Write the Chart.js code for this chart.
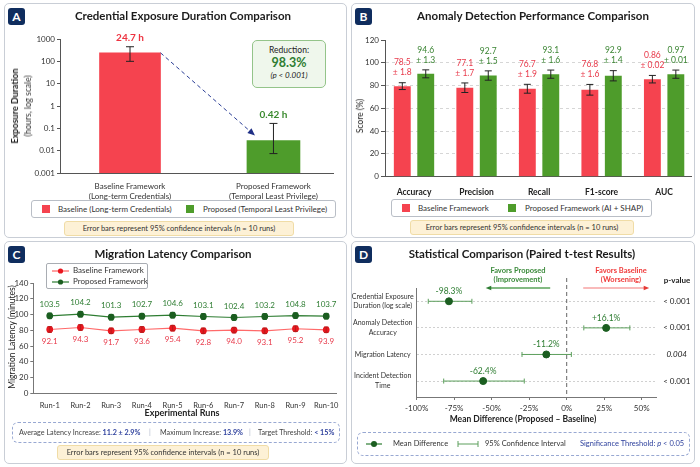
<!DOCTYPE html>
<html>
<head>
<meta charset="utf-8">
<script src="https://cdn.jsdelivr.net/npm/chart.js@4.4.1/dist/chart.umd.min.js"></script>
<style>
body { margin: 0; width: 700px; height: 467px; background: #fff; font-family: Lato, 'Noto Sans', sans-serif; color: #222; position: relative; overflow: hidden; }
.panel { position: absolute; border: 1px solid #c9ced6; border-radius: 5px; background: #fff; }
.wrap { position: absolute; left: 0; top: 0; }
.badge { position: absolute; left: 3px; top: 4px; width: 17px; height: 17px; background: #0f2d5e; color: #fff; font-weight: 700; font-size: 12px; line-height: 17px; text-align: center; border-radius: 3px; }
.title { position: absolute; top: 4px; font-size: 11.5px; font-weight: 700; color: #1c1c1c; white-space: nowrap; transform: translateX(-50%); line-height: 16px; }
.t { position: absolute; white-space: nowrap; }
.rot { position: absolute; white-space: nowrap; text-align: center; transform: translate(-50%, -50%) rotate(-90deg); }
.legend { position: absolute; border: 1px solid #b9bec6; border-radius: 3px; font-size: 8px; color: #333; background: #fff; }
.legend .t { top: 50%; transform: translateY(-50%); }
.sw { position: absolute; width: 8px; height: 8px; top: 50%; margin-top: -4px; }
.note { position: absolute; background: #fdf1d6; border: 1px solid #f0dca6; border-radius: 3px; font-size: 7.5px; color: #333; text-align: center; }
</style>
</head>
<body>

<!-- Panel A -->
<div class="panel" style="left:4px;top:3px;width:341px;height:233px;">
  <div class="wrap" style="width:341px;height:233px;"><canvas id="chartA"></canvas></div>
  <div class="badge">A</div>
  <div class="title" style="left:178px;">Credential Exposure Duration Comparison</div>
  <div class="rot" style="left:15px;top:102px;line-height:10px;"><b style="font-size:9px;">Exposure Duration</b><br><span style="font-size:8.5px;color:#333;">(hours, log scale)</span></div>
  <div class="t" style="left:247px;top:36px;width:72px;height:46px;border:1px solid #94c48a;border-radius:5px;background:#eff7ec;text-align:center;">
    <div style="font-size:8.5px;margin-top:4px;line-height:10px;">Reduction:</div>
    <div style="font-size:12.5px;font-weight:700;color:#2e7d32;line-height:15px;">98.3%</div>
    <div style="font-size:8px;font-style:italic;line-height:11px;">(p &lt; 0.001)</div>
  </div>
  <div class="legend" style="left:26px;top:196px;width:303px;height:16px;">
    <span class="sw" style="left:10px;background:#f5434f;"></span><span class="t" style="left:26px;">Baseline (Long-term Credentials)</span>
    <span class="sw" style="left:154px;background:#4e9c2b;"></span><span class="t" style="left:171px;">Proposed (Temporal Least Privilege)</span>
  </div>
  <div class="note" style="left:59px;top:217px;width:228px;height:13px;line-height:13px;">Error bars represent 95% confidence intervals (n = 10 runs)</div>
</div>

<!-- Panel B -->
<div class="panel" style="left:351px;top:3px;width:342px;height:233px;">
  <div class="wrap" style="width:342px;height:233px;"><canvas id="chartB"></canvas></div>
  <div class="badge">B</div>
  <div class="title" style="left:181px;">Anomaly Detection Performance Comparison</div>
  <div class="rot" style="left:8px;top:112px;font-size:8.5px;">Score (%)</div>
  <div class="legend" style="left:39px;top:195px;width:259px;height:16px;">
    <span class="sw" style="left:10px;background:#f5434f;"></span><span class="t" style="left:26px;">Baseline Framework</span>
    <span class="sw" style="left:116px;background:#4e9c2b;"></span><span class="t" style="left:133px;">Proposed Framework (AI + SHAP)</span>
  </div>
  <div class="note" style="left:58px;top:216px;width:222px;height:13px;line-height:13px;">Error bars represent 95% confidence intervals (n = 10 runs)</div>
</div>

<!-- Panel C -->
<div class="panel" style="left:4px;top:241px;width:341px;height:221px;">
  <div class="wrap" style="width:341px;height:221px;"><canvas id="chartC"></canvas></div>
  <div class="badge">C</div>
  <div class="title" style="left:168px;">Migration Latency Comparison</div>
  <div class="rot" style="left:7px;top:95px;font-size:8.5px;">Migration Latency (minutes)</div>
  <div class="t" style="left:177px;top:165px;transform:translateX(-50%);font-size:9px;font-weight:700;">Experimental Runs</div>
  <div class="t" style="left:41px;top:21px;width:100px;height:24px;border:1px solid #a9adb3;border-radius:2px;background:#fff;font-size:8px;color:#333;">
    <svg class="t" style="left:5px;top:3px;" width="17" height="8"><line x1="0" y1="4" x2="17" y2="4" stroke="#ff6060" stroke-width="1.2"/><circle cx="8.5" cy="4" r="2.6" fill="#e8161e"/></svg>
    <span class="t" style="left:26px;top:1px;">Baseline Framework</span>
    <svg class="t" style="left:5px;top:14px;" width="17" height="8"><line x1="0" y1="4" x2="17" y2="4" stroke="#2e7d32" stroke-width="1.2"/><circle cx="8.5" cy="4" r="2.6" fill="#1b5e20"/></svg>
    <span class="t" style="left:26px;top:12px;">Proposed Framework</span>
  </div>
  <div class="t" style="left:7px;top:180px;width:326px;height:19px;border:1px dashed #98a8d2;border-radius:6px;font-size:7.2px;color:#444;line-height:19px;">
    <span class="t" style="left:6px;">Average Latency Increase: <span style="color:#2c3f9c;font-weight:700;">11.2 ± 2.9%</span></span>
    <span class="t" style="left:136px;color:#aab3c8;">|</span>
    <span class="t" style="left:147px;">Maximum Increase: <span style="color:#2c3f9c;font-weight:700;">13.9%</span></span>
    <span class="t" style="left:236px;color:#aab3c8;">|</span>
    <span class="t" style="left:245px;">Target Threshold: <span style="color:#2c3f9c;font-weight:700;">&lt; 15%</span></span>
  </div>
  <div class="note" style="left:52px;top:203px;width:210px;height:13px;line-height:13px;">Error bars represent 95% confidence intervals (n = 10 runs)</div>
</div>

<!-- Panel D -->
<div class="panel" style="left:351px;top:241px;width:342px;height:221px;">
  <div class="wrap" style="width:342px;height:221px;"><canvas id="chartD"></canvas></div>
  <div class="badge">D</div>
  <div class="title" style="left:170px;">Statistical Comparison (Paired t-test Results)</div>
  <div class="t" style="left:166px;top:24px;transform:translateX(-50%);font-size:7.5px;font-weight:700;color:#3a8a3a;text-align:center;line-height:9px;">Favors Proposed<br>(Improvement)</div>
  <div class="t" style="left:269px;top:24px;transform:translateX(-50%);font-size:7.5px;font-weight:700;color:#f03a3a;text-align:center;line-height:9px;">Favors Baseline<br>(Worsening)</div>
  <div class="t" style="left:325px;top:33px;transform:translateX(-50%);font-size:8px;font-weight:700;">p-value</div>
  <div class="t" style="left:171px;top:172px;transform:translateX(-50%);font-size:8.5px;font-weight:700;">Mean Difference (Proposed – Baseline)</div>
  <div class="t" style="left:5px;top:190px;width:331px;height:22px;border:1px dashed #98a8d2;border-radius:6px;font-size:7.5px;color:#333;line-height:22px;">
    <svg class="t" style="left:8px;top:7px;" width="16" height="8"><line x1="0" y1="4" x2="16" y2="4" stroke="#2e7d32" stroke-width="1.2"/><circle cx="8" cy="4" r="3" fill="#1b5e20"/></svg>
    <span class="t" style="left:35px;">Mean Difference</span>
    <svg class="t" style="left:99px;top:7px;" width="22" height="8"><line x1="1" y1="4" x2="21" y2="4" stroke="#5c9f5c" stroke-width="1"/><line x1="1" y1="1" x2="1" y2="7" stroke="#5c9f5c"/><line x1="21" y1="1" x2="21" y2="7" stroke="#5c9f5c"/></svg>
    <span class="t" style="left:127px;">95% Confidence Interval</span>
    <span class="t" style="left:222px;color:#2c3f9c;">Significance Threshold: <i>p</i> &lt; 0.05</span>
  </div>
</div>

<script>
// ---- Panel A: credential exposure (log scale) ----
const exposureLabels = [['Baseline Framework', '(Long-term Credentials)'], ['Proposed Framework', '(Temporal Least Privilege)']];
const exposureValues = [240, 0.0285];
const exposureLow = [100, 0.0074];
const exposureHigh = [450, 0.166];
const exposureText = ['24.7 h', '0.42 h'];
const exposureTicks = [0.001, 0.01, 0.1, 1, 10, 100, 1000];

// ---- Panel B: detection metrics ----
const metricLabels = ['Accuracy', 'Precision', 'Recall', 'F1-score', 'AUC'];
const baselineScores = [79.5, 78.1, 77.2, 76.3, 85.6];
const proposedScores = [90.3, 88.8, 90.0, 88.6, 90.0];
const baselineScoreErr = [3.0, 4.2, 3.9, 4.7, 3.3];
const proposedScoreErr = [3.5, 4.1, 3.6, 4.5, 3.6];
const baselineScoreText = ['78.5', '77.1', '76.7', '76.8', '0.86'];
const baselineScoreSd = ['± 1.8', '± 1.7', '± 1.9', '± 1.6', '± 0.02'];
const proposedScoreText = ['94.6', '92.7', '93.1', '92.9', '0.97'];
const proposedScoreSd = ['± 1.3', '± 1.5', '± 1.6', '± 1.4', '± 0.01'];

// ---- Panel C: migration latency ----
const runLabels = ['Run-1', 'Run-2', 'Run-3', 'Run-4', 'Run-5', 'Run-6', 'Run-7', 'Run-8', 'Run-9', 'Run-10'];
const baselineLatency = [81.0, 83.5, 79.3, 81.0, 82.7, 79.3, 80.2, 79.3, 81.9, 80.6];
const proposedLatency = [98.3, 100.4, 96.6, 97.9, 99.2, 97.5, 96.2, 97.5, 98.7, 97.9];
const baselineLatencyErr = [3.5, 3.5, 3.5, 3.5, 3.5, 3.5, 3.5, 3.5, 3.5, 3.5];
const proposedLatencyErr = [3.5, 3.5, 3.5, 3.5, 3.5, 3.5, 3.5, 3.5, 3.5, 3.5];
const baselineLatencyText = ['92.1', '94.3', '91.7', '93.6', '95.4', '92.8', '94.0', '93.1', '95.2', '93.9'];
const proposedLatencyText = ['103.5', '104.2', '101.3', '102.7', '104.6', '103.1', '102.4', '103.2', '104.8', '103.7'];

// ---- Panel D: paired t-tests ----
const testLabels = [['Credential Exposure', 'Duration (log scale)'], ['Anomaly Detection', 'Accuracy'], ['Migration Latency'], ['Incident Detection', 'Time']];
const meanDiff = [-78.5, 26.3, -13.6, -55.7];
const ciLow = [-92.3, 11.4, -29.8, -82.0];
const ciHigh = [-63.2, 42.1, 3.1, -28.3];
const diffText = ['-98.3%', '+16.1%', '-11.2%', '-62.4%'];
const pValues = ['< 0.001', '< 0.001', '0.004', '< 0.001'];
const diffTicks = [-100, -75, -50, -25, 0, 25, 50];

const RED = '#f5434f', GREEN = '#4e9c2b';
const RED_TEXT = '#e8394a', GREEN_TEXT = '#3b8533';

Chart.defaults.font.family = "Lato, 'Noto Sans', sans-serif";
Chart.defaults.font.size = 8;
Chart.defaults.color = '#333';
Chart.defaults.animation = false;
Chart.defaults.plugins.legend.display = false;
Chart.defaults.plugins.tooltip.enabled = false;

// vertical error bars for bar / line charts
function errorBars(id, sets, cap) {
    return {
        id: id,
        afterDatasetsDraw(chart) {
            const ctx = chart.ctx, y = chart.scales.y;
            ctx.save();
            ctx.lineWidth = 1;
            sets.forEach(s => {
                ctx.strokeStyle = s.color;
                chart.getDatasetMeta(s.dataset).data.forEach((el, i) => {
                    if (s.low[i] == null) return;
                    const top = y.getPixelForValue(s.high[i]);
                    const bot = y.getPixelForValue(s.low[i]);
                    ctx.beginPath();
                    ctx.moveTo(el.x, top); ctx.lineTo(el.x, bot);
                    ctx.moveTo(el.x - cap, top); ctx.lineTo(el.x + cap, top);
                    ctx.moveTo(el.x - cap, bot); ctx.lineTo(el.x + cap, bot);
                    ctx.stroke();
                });
            });
            ctx.restore();
        }
    };
}

function arrowHead(ctx, x, y, angle, size) {
    ctx.beginPath();
    ctx.moveTo(x, y);
    ctx.lineTo(x - size * Math.cos(angle - 0.4), y - size * Math.sin(angle - 0.4));
    ctx.lineTo(x - size * Math.cos(angle + 0.4), y - size * Math.sin(angle + 0.4));
    ctx.closePath();
    ctx.fill();
}

// ---------- Chart A ----------
const labelsA = {
    id: 'labelsA',
    afterDatasetsDraw(chart) {
        const ctx = chart.ctx, y = chart.scales.y;
        ctx.save();
        ctx.font = "bold 10px Lato, 'Noto Sans', sans-serif";
        ctx.textAlign = 'center';
        ctx.textBaseline = 'middle';
        [0, 1].forEach(d => {
            const el = chart.getDatasetMeta(d).data[0];
            ctx.fillStyle = d === 0 ? '#ee3340' : '#3a8a2e';
            ctx.fillText(exposureText[d], el.x, y.getPixelForValue(exposureHigh[d]) - 9);
        });
        // dashed arrow between the two bars
        const b = chart.getDatasetMeta(0).data[0], p = chart.getDatasetMeta(1).data[0];
        const x1 = b.x + b.width / 2, y1 = b.y;
        const x2 = p.x - p.width / 2 + 8, y2 = p.y - 5;
        ctx.strokeStyle = '#2a3d95';
        ctx.fillStyle = '#1f2f86';
        ctx.lineWidth = 1;
        ctx.setLineDash([4, 3]);
        ctx.beginPath(); ctx.moveTo(x1, y1); ctx.lineTo(x2, y2); ctx.stroke();
        ctx.setLineDash([]);
        arrowHead(ctx, x2, y2, Math.atan2(y2 - y1, x2 - x1), 8);
        ctx.restore();
    }
};

new Chart(document.getElementById('chartA'), {
    type: 'bar',
    data: {
        datasets: [
            { data: [{ x: 0, y: exposureValues[0] }], backgroundColor: RED, barThickness: 61, grouped: false },
            { data: [{ x: 1, y: exposureValues[1] }], backgroundColor: GREEN, barThickness: 53, grouped: false }
        ]
    },
    options: {
        responsive: true, maintainAspectRatio: false,
        layout: { padding: { top: 35, right: 13, left: 0, bottom: 0 } },
        scales: {
            x: {
                type: 'linear', min: -0.488, max: 1.415, offset: false,
                afterBuildTicks(s) { s.ticks = [{ value: 0 }, { value: 1 }]; },
                ticks: { callback: v => exposureLabels[v], font: { size: 8 }, color: '#333', padding: 9, maxRotation: 0 },
                grid: { display: false, drawTicks: false },
                border: { color: '#555' },
                afterFit(s) { s.height = 64; }
            },
            y: {
                type: 'logarithmic', min: 0.001, max: 1000,
                afterBuildTicks(s) { s.ticks = exposureTicks.map(v => ({ value: v })); },
                ticks: { callback: v => String(v), font: { size: 8 }, color: '#333', padding: 2 },
                grid: { drawOnChartArea: false, tickLength: 3, color: '#555' },
                border: { color: '#555' },
                afterFit(s) { s.width = 55; }
            }
        }
    },
    plugins: [
        errorBars('errA', [
            { dataset: 0, low: [exposureLow[0]], high: [exposureHigh[0]], color: '#222' },
            { dataset: 1, low: [exposureLow[1]], high: [exposureHigh[1]], color: '#222' }
        ], 4),
        labelsA
    ]
});

// ---------- Chart B ----------
const labelsB = {
    id: 'labelsB',
    afterDatasetsDraw(chart) {
        const ctx = chart.ctx, y = chart.scales.y;
        ctx.save();
        ctx.font = "8.5px Lato, 'Noto Sans', sans-serif";
        ctx.textAlign = 'center';
        ctx.textBaseline = 'middle';
        const sets = [
            { values: baselineScores, err: baselineScoreErr, top: baselineScoreText, bot: baselineScoreSd, color: RED_TEXT },
            { values: proposedScores, err: proposedScoreErr, top: proposedScoreText, bot: proposedScoreSd, color: GREEN_TEXT }
        ];
        sets.forEach((s, d) => {
            ctx.fillStyle = s.color;
            chart.getDatasetMeta(d).data.forEach((el, i) => {
                const yt = y.getPixelForValue(s.values[i] + s.err[i]);
                ctx.fillText(s.top[i], el.x, yt - 20);
                ctx.fillText(s.bot[i], el.x, yt - 10);
            });
        });
        ctx.restore();
    }
};

new Chart(document.getElementById('chartB'), {
    type: 'bar',
    data: {
        datasets: [
            { data: metricLabels.map((m, i) => ({ x: i, y: baselineScores[i] })), backgroundColor: RED, categoryPercentage: 0.75, barPercentage: 0.72 },
            { data: metricLabels.map((m, i) => ({ x: i, y: proposedScores[i] })), backgroundColor: GREEN, categoryPercentage: 0.75, barPercentage: 0.72 }
        ]
    },
    options: {
        responsive: true, maintainAspectRatio: false,
        layout: { padding: { top: 36, right: 3, left: 0, bottom: 0 } },
        scales: {
            x: {
                type: 'linear', min: -0.464, max: 4.43, offset: false,
                afterBuildTicks(s) { s.ticks = metricLabels.map((m, i) => ({ value: i })); },
                ticks: { callback: v => metricLabels[v], font: { size: 8.5, weight: 'bold' }, color: '#222', padding: 10, maxRotation: 0 },
                grid: { display: false, drawTicks: false },
                border: { color: '#555' },
                afterFit(s) { s.height = 60.3; }
            },
            y: {
                min: 0, max: 120,
                ticks: { stepSize: 20, font: { size: 8 }, color: '#333', padding: 2 },
                grid: { color: c => (c.tick.value > 0 && c.tick.value < 120 ? '#d6d6d6' : 'rgba(0,0,0,0)'), tickColor: '#555', tickLength: 4 },
                border: { color: '#555', dash: [3, 3] },
                afterFit(s) { s.width = 33; }
            }
        }
    },
    plugins: [
        errorBars('errB', [
            { dataset: 0, low: baselineScores.map((v, i) => v - baselineScoreErr[i]), high: baselineScores.map((v, i) => v + baselineScoreErr[i]), color: '#222' },
            { dataset: 1, low: proposedScores.map((v, i) => v - proposedScoreErr[i]), high: proposedScores.map((v, i) => v + proposedScoreErr[i]), color: '#222' }
        ], 3.5),
        labelsB
    ]
});

// ---------- Chart C ----------
const labelsC = {
    id: 'labelsC',
    afterDatasetsDraw(chart) {
        const ctx = chart.ctx;
        ctx.save();
        ctx.font = "8px Lato, 'Noto Sans', sans-serif";
        ctx.textAlign = 'center';
        ctx.textBaseline = 'middle';
        ctx.fillStyle = RED_TEXT;
        chart.getDatasetMeta(0).data.forEach((el, i) => ctx.fillText(baselineLatencyText[i], el.x, el.y + 11.5));
        ctx.fillStyle = '#2e7d32';
        chart.getDatasetMeta(1).data.forEach((el, i) => ctx.fillText(proposedLatencyText[i], el.x, el.y - 11.5));
        ctx.restore();
    }
};

new Chart(document.getElementById('chartC'), {
    type: 'line',
    data: {
        datasets: [
            { data: runLabels.map((r, i) => ({ x: i, y: baselineLatency[i] })), borderColor: '#ff6a6a', borderWidth: 1.2, pointRadius: 2.8, pointBackgroundColor: '#e8161e', pointBorderColor: '#e8161e' },
            { data: runLabels.map((r, i) => ({ x: i, y: proposedLatency[i] })), borderColor: '#2e7d32', borderWidth: 1.2, pointRadius: 2.8, pointBackgroundColor: '#1b5e20', pointBorderColor: '#1b5e20' }
        ]
    },
    options: {
        responsive: true, maintainAspectRatio: false,
        layout: { padding: { top: 41, right: 4.3, left: 0, bottom: 0 } },
        scales: {
            x: {
                type: 'linear', min: -0.535, max: 9.34, offset: false,
                afterBuildTicks(s) { s.ticks = runLabels.map((r, i) => ({ value: i })); },
                ticks: { callback: v => runLabels[v], font: { size: 7.5 }, color: '#333', padding: 7.4, maxRotation: 0 },
                grid: { display: false, drawTicks: false },
                border: { color: '#777' },
                afterFit(s) { s.height = 69.7; }
            },
            y: {
                min: 0, max: 140,
                ticks: { stepSize: 20, font: { size: 8 }, color: '#333', padding: 2 },
                grid: { drawOnChartArea: false, tickLength: 3, color: '#777' },
                border: { color: '#777' },
                afterFit(s) { s.width = 28.3; }
            }
        }
    },
    plugins: [
        errorBars('errC', [
            { dataset: 0, low: baselineLatency.map((v, i) => v - baselineLatencyErr[i]), high: baselineLatency.map((v, i) => v + baselineLatencyErr[i]), color: '#b71c1c' },
            { dataset: 1, low: proposedLatency.map((v, i) => v - proposedLatencyErr[i]), high: proposedLatency.map((v, i) => v + proposedLatencyErr[i]), color: '#1b5e20' }
        ], 2.2),
        labelsC
    ]
});

// ---------- Chart D ----------
const forestD = {
    id: 'forestD',
    beforeDatasetsDraw(chart) {
        const { ctx, chartArea, scales: { x, y } } = chart;
        ctx.save();
        // zero reference line
        const x0 = x.getPixelForValue(0);
        ctx.strokeStyle = '#666';
        ctx.lineWidth = 1;
        ctx.setLineDash([4, 3]);
        ctx.beginPath(); ctx.moveTo(x0, chartArea.top - 10); ctx.lineTo(x0, chartArea.bottom); ctx.stroke();
        ctx.setLineDash([]);
        // confidence intervals
        ctx.strokeStyle = '#5c9f5c';
        meanDiff.forEach((m, i) => {
            const yy = y.getPixelForValue(i);
            const a = x.getPixelForValue(ciLow[i]), b = x.getPixelForValue(ciHigh[i]);
            ctx.beginPath();
            ctx.moveTo(a, yy); ctx.lineTo(b, yy);
            ctx.moveTo(a, yy - 2.5); ctx.lineTo(a, yy + 2.5);
            ctx.moveTo(b, yy - 2.5); ctx.lineTo(b, yy + 2.5);
            ctx.stroke();
        });
        // direction arrows
        const ay = chartArea.top;
        ctx.lineWidth = 1.5;
        ctx.strokeStyle = '#5aa35a';
        ctx.fillStyle = '#2e7d32';
        let s = x.getPixelForValue(-11), e = x.getPixelForValue(-54);
        ctx.beginPath(); ctx.moveTo(s, ay); ctx.lineTo(e + 3, ay); ctx.stroke();
        arrowHead(ctx, e, ay, Math.PI, 6);
        ctx.strokeStyle = '#f7a3a3';
        ctx.fillStyle = '#e53935';
        s = x.getPixelForValue(11); e = x.getPixelForValue(55);
        ctx.beginPath(); ctx.moveTo(s, ay); ctx.lineTo(e - 3, ay); ctx.stroke();
        arrowHead(ctx, e, ay, 0, 6);
        ctx.restore();
    },
    afterDatasetsDraw(chart) {
        const { ctx, chartArea, scales: { y } } = chart;
        ctx.save();
        ctx.textAlign = 'center';
        ctx.textBaseline = 'middle';
        ctx.font = "8.5px Lato, 'Noto Sans', sans-serif";
        ctx.fillStyle = '#2e7d32';
        chart.getDatasetMeta(0).data.forEach((el, i) => ctx.fillText(diffText[i], el.x, el.y - 10));
        ctx.fillStyle = '#222';
        pValues.forEach((p, i) => {
            ctx.font = (p.startsWith('<') ? '' : 'italic ') + "8px Lato, 'Noto Sans', sans-serif";
            ctx.fillText(p, chartArea.right + 20, y.getPixelForValue(i));
        });
        ctx.restore();
    }
};

new Chart(document.getElementById('chartD'), {
    type: 'scatter',
    data: {
        datasets: [
            { data: meanDiff.map((m, i) => ({ x: m, y: i })), pointRadius: 3.5, pointBackgroundColor: '#1b5e20', pointBorderColor: '#1b5e20' }
        ]
    },
    options: {
        responsive: true, maintainAspectRatio: false,
        layout: { padding: { top: 46, right: 37.3, left: 0, bottom: 0 } },
        scales: {
            x: {
                min: -100, max: 60,
                afterBuildTicks(s) { s.ticks = diffTicks.map(v => ({ value: v })); },
                ticks: { callback: v => v + '%', font: { size: 8 }, color: '#333', padding: 4, maxRotation: 0 },
                grid: { drawOnChartArea: false, tickLength: 3, color: '#777' },
                border: { color: '#777' },
                afterFit(s) { s.height = 66; }
            },
            y: {
                min: -0.5, max: 3.6, reverse: true,
                afterBuildTicks(s) { s.ticks = testLabels.map((t, i) => ({ value: i })); },
                ticks: { callback: v => testLabels[v], font: { size: 7, lineHeight: 1.4 }, color: '#333', padding: 3, crossAlign: 'center' },
                grid: { color: '#d0d0d0', drawTicks: false },
                border: { color: '#777', dash: [2, 2] },
                afterFit(s) { s.width = 64.7; }
            }
        }
    },
    plugins: [forestD]
});
</script>
</body>
</html>
